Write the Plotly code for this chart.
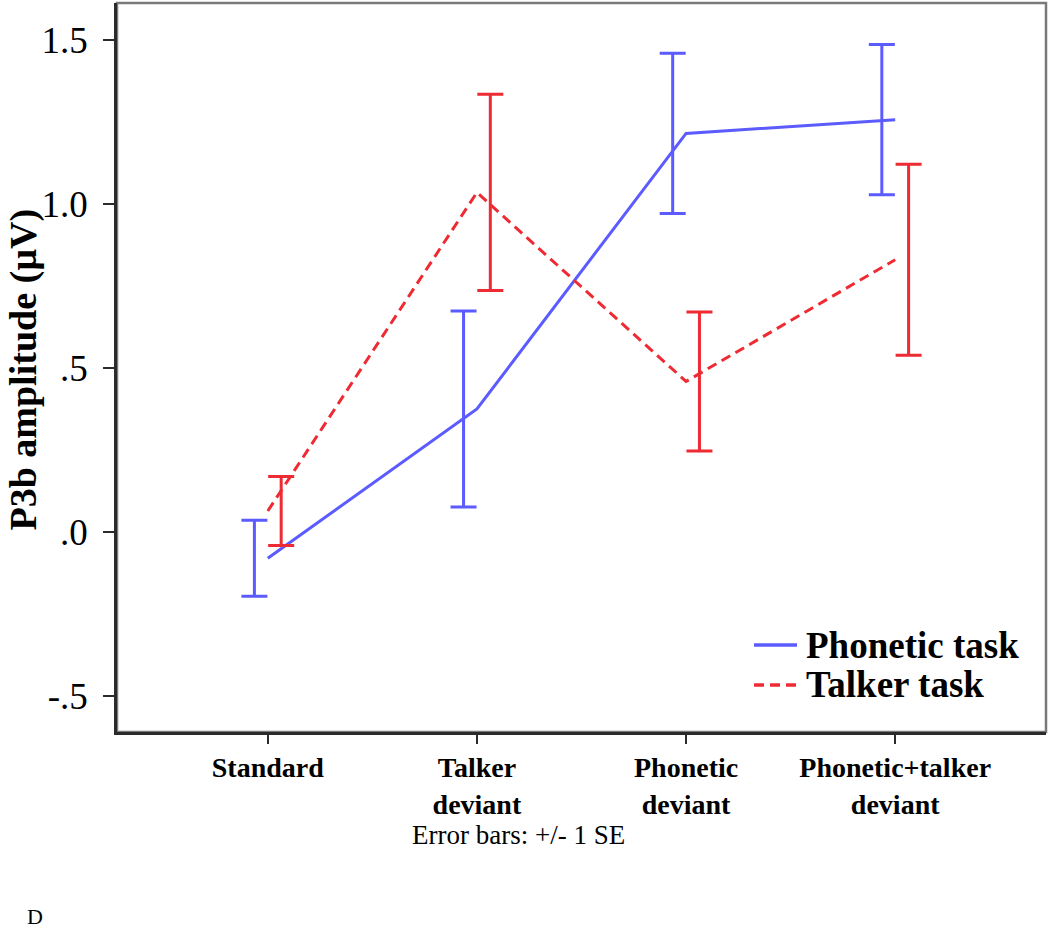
"""P3b amplitude by stimulus type, phonetic vs talker task (SPSS-style line chart)."""

import plotly.graph_objects as go

# Data
categories = ["Standard", "Talker<br>deviant", "Phonetic<br>deviant", "Phonetic+talker<br>deviant"]
phonetic_mean = [-0.081, 0.374, 1.214, 1.256]
phonetic_se = [0.116, 0.299, 0.244, 0.229]
talker_mean = [0.063, 1.034, 0.458, 0.829]
talker_se = [0.105, 0.299, 0.212, 0.291]
series_names = ["Phonetic task", "Talker task"]
y_tick_vals = [-0.5, 0.0, 0.5, 1.0, 1.5]
y_tick_text = ["-.5", ".0", ".5", "1.0", "1.5"]

BLUE = "#5b5bff"
RED = "#ee2b33"
SERIF = "Liberation Serif"
DODGE = 0.064  # error bars are shifted left/right of the category centre
RED_DASH = "10px,6px"

x_idx = list(range(len(categories)))

fig = go.Figure()

# Mean lines
fig.add_trace(go.Scatter(
    x=x_idx, y=phonetic_mean, mode="lines", name=series_names[0],
    line=dict(color=BLUE, width=3)
))
fig.add_trace(go.Scatter(
    x=x_idx, y=talker_mean, mode="lines", name=series_names[1],
    line=dict(color=RED, width=3, dash=RED_DASH)
))

# Error bars, +/- 1 SE
for means, ses, color, shift in [
    (phonetic_mean, phonetic_se, BLUE, -DODGE),
    (talker_mean, talker_se, RED, DODGE),
]:
    fig.add_trace(go.Scatter(
        x=[i + shift for i in x_idx], y=means, mode="markers",
        marker=dict(size=1, color="rgba(0,0,0,0)"),
        error_y=dict(type="data", array=ses, color=color, thickness=3, width=13),
        showlegend=False, hoverinfo="skip"
    ))

# Grey frame around the plot area
fig.add_shape(type="rect", xref="paper", yref="paper", x0=0, y0=0, x1=1, y1=1,
              line=dict(color="#7a7a7a", width=2.5), layer="below")

# Legend drawn by hand (SPSS uses a longer line sample than plotly's)
legend_rows = [(series_names[0], BLUE, "solid", 0.1193),
               (series_names[1], RED, RED_DASH, 0.0645)]
for name, color, dash, ypos in legend_rows:
    fig.add_shape(type="line", xref="paper", yref="paper",
                  x0=0.6857, x1=0.7320, y0=ypos, y1=ypos,
                  line=dict(color=color, width=3.5, dash=dash))
    fig.add_annotation(
        text=name, showarrow=False, xref="paper", yref="paper",
        x=0.7395, y=ypos, xanchor="left", yanchor="middle",
        font=dict(family=SERIF, size=37, color="black", weight="bold")
    )

fig.update_layout(
    width=1050, height=932,
    margin=dict(l=117, r=4, t=3, b=200),
    paper_bgcolor="white", plot_bgcolor="white",
    font=dict(family=SERIF, color="black"),
    showlegend=False,
)

fig.update_xaxes(
    range=[-0.721, 3.721], tickvals=x_idx, ticktext=categories,
    showgrid=False, zeroline=False,
    showline=True, linecolor="#2b2b2b", linewidth=2.5,
    ticks="outside", ticklen=9, tickwidth=1.5, tickcolor="#2b2b2b",
    tickfont=dict(family=SERIF, size=28, color="black", weight="bold"),
)
fig.update_yaxes(
    range=[-0.6106, 1.6115], tickvals=y_tick_vals, ticktext=y_tick_text,
    showgrid=False, zeroline=False,
    showline=True, linecolor="#2b2b2b", linewidth=2.5,
    ticks="outside", ticklen=11, tickwidth=1.5, tickcolor="#2b2b2b",
    ticklabelstandoff=8,
    tickfont=dict(family=SERIF, size=37, color="black"),
)

fig.add_annotation(
    text="P3b amplitude (\u00b5V)", textangle=-90, showarrow=False,
    xref="paper", yref="paper", x=-0.1259, y=0.4966, xanchor="left", yanchor="middle",
    font=dict(family=SERIF, size=38, color="black", weight="bold")
)
fig.add_annotation(
    text="Error bars: +/- 1 SE", showarrow=False,
    xref="paper", yref="paper", x=0.4327, y=-0.1413, xanchor="center", yanchor="middle",
    font=dict(family=SERIF, size=27, color="black")
)
fig.add_annotation(
    text="D", showarrow=False,
    xref="paper", yref="paper", x=-0.0888, y=-0.2730, xanchor="center", yanchor="bottom",
    font=dict(family=SERIF, size=22, color="black")
)

# drop the default 8px page margin so the figure sits at the window's corner
fig.write_html("out.html", config={"displayModeBar": False},
               post_script="document.body.style.margin='0';")
